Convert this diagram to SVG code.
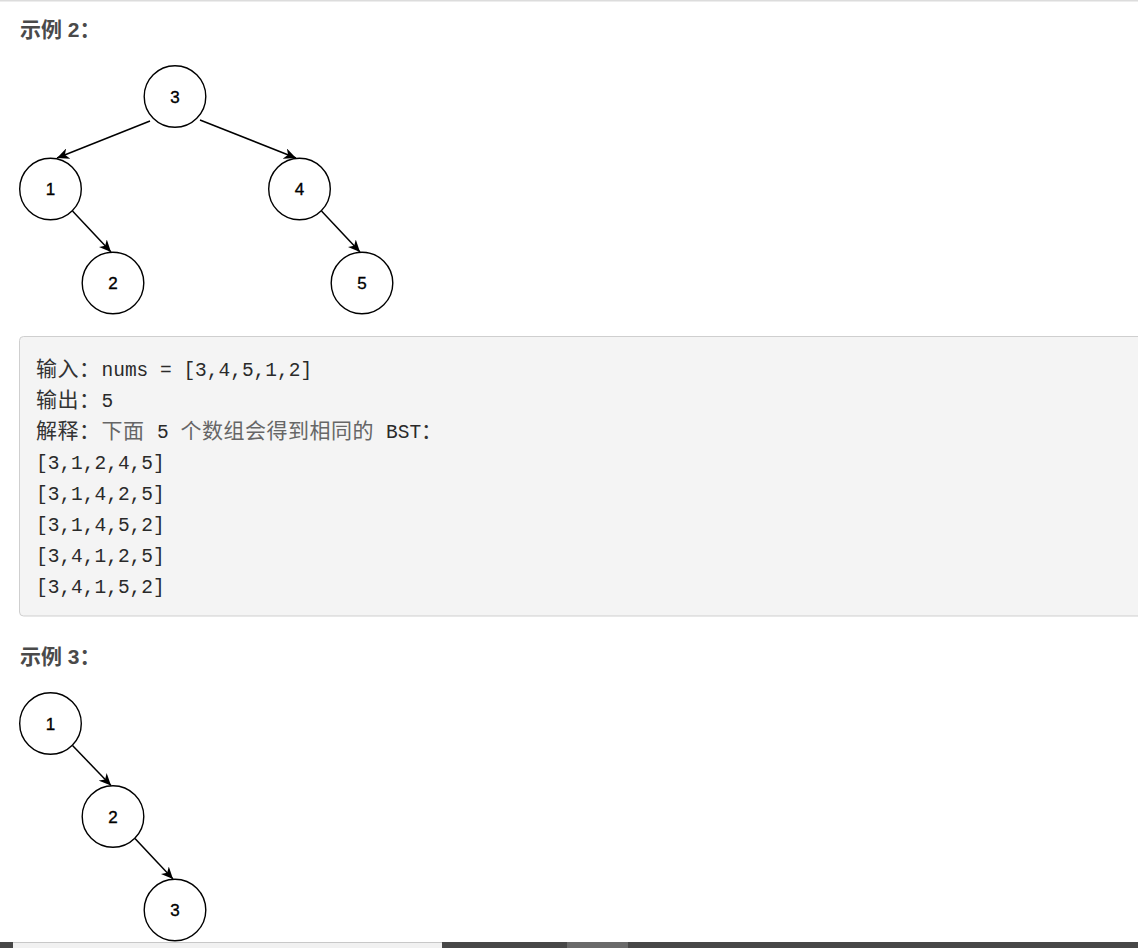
<svg xmlns="http://www.w3.org/2000/svg" width="1138" height="948" viewBox="0 0 1138 948">
<style>
.h{font-family:"Liberation Sans","Noto Sans CJK SC",sans-serif;font-weight:bold;font-size:21px;fill:#4a4a4a}
.n circle{fill:#fff;stroke:#000;stroke-width:1.4}
.n text{font-family:"Liberation Sans",Arial,sans-serif;font-size:17px;fill:#000;stroke:#000;stroke-width:0.35;text-anchor:middle}
.e line{stroke:#000;stroke-width:1.5;fill:none}
.m{font-family:"Liberation Mono","Noto Sans CJK SC",monospace;font-size:19.5px;fill:#2a2a2a}
.c{font-family:"Noto Sans CJK SC",sans-serif;font-size:21px;letter-spacing:0.5px;fill:#333}
.g{fill:#666}
</style>
<defs>
<marker id="ar" viewBox="0 0 13 11" refX="12" refY="5.5" markerWidth="13" markerHeight="11" markerUnits="userSpaceOnUse" orient="auto">
<path d="M0,0 L12,5.5 L0,11 L3.5,5.5 Z" fill="#000"/>
</marker>
</defs>
<rect x="0" y="0" width="1138" height="948" fill="#fff"/>
<rect x="0" y="0" width="1138" height="1.5" fill="#dcdcdc"/>

<text class="h" x="20" y="37">示例 2：</text>

<g class="e" id="edges2">
<line x1="150" y1="121" x2="57" y2="158" marker-end="url(#ar)"/>
<line x1="200" y1="120" x2="296" y2="158" marker-end="url(#ar)"/>
<line x1="72.5" y1="211" x2="111" y2="252" marker-end="url(#ar)"/>
<line x1="321.5" y1="211" x2="360" y2="252" marker-end="url(#ar)"/>
</g>
<g class="n" id="n2_3"><circle cx="175" cy="96.5" r="30.8"/><text x="175" y="102.5">3</text></g>
<g class="n" id="n2_1"><circle cx="50.5" cy="189" r="30.8"/><text x="50.5" y="195">1</text></g>
<g class="n" id="n2_4"><circle cx="299.5" cy="189" r="30.8"/><text x="299.5" y="195">4</text></g>
<g class="n" id="n2_2"><circle cx="113" cy="283" r="30.8"/><text x="113" y="289">2</text></g>
<g class="n" id="n2_5"><circle cx="362" cy="283" r="30.8"/><text x="362" y="289">5</text></g>

<g id="codebox">
<rect x="19.5" y="336.5" width="1130" height="279.5" rx="4" fill="#f4f4f4" stroke="#cfcfcf" stroke-width="1"/>
<text class="c" x="36" y="376">输入：</text><text class="m" x="101.5" y="376">nums = [3,4,5,1,2]</text>
<text class="c" x="36" y="407">输出：</text><text class="m" x="101.5" y="407">5</text>
<text class="c" x="36" y="438">解释：</text><text class="c g" x="101.5" y="438">下面</text><text class="m" x="157" y="438">5</text><text class="c g" x="180.5" y="438">个数组会得到相同的</text><text class="m" x="386" y="438">BST</text><text class="c" x="421" y="438">：</text>
<text class="m" x="36" y="469">[3,1,2,4,5]</text>
<text class="m" x="36" y="500">[3,1,4,2,5]</text>
<text class="m" x="36" y="531">[3,1,4,5,2]</text>
<text class="m" x="36" y="562">[3,4,1,2,5]</text>
<text class="m" x="36" y="593">[3,4,1,5,2]</text>
</g>

<text class="h" x="20" y="664">示例 3：</text>

<g class="e" id="edges3">
<line x1="72.5" y1="745.5" x2="111" y2="785.5" marker-end="url(#ar)"/>
<line x1="135" y1="838.5" x2="173" y2="879" marker-end="url(#ar)"/>
</g>
<g class="n" id="n3_1"><circle cx="50.5" cy="723.5" r="30.8"/><text x="50.5" y="729.5">1</text></g>
<g class="n" id="n3_2"><circle cx="113" cy="816.5" r="30.8"/><text x="113" y="822.5">2</text></g>
<g class="n" id="n3_3"><circle cx="175" cy="910" r="30.8"/><text x="175" y="916">3</text></g>

<g id="scrollbar">
<rect x="0" y="942" width="1138" height="6" fill="#474747"/>
<rect x="13" y="942" width="429" height="6" fill="#f1f1f1"/>
<rect x="13" y="942" width="429" height="1" fill="#c8c8c8"/>
<rect x="567" y="942" width="61" height="6" fill="#6a6a6a"/>
</g>
</svg>
